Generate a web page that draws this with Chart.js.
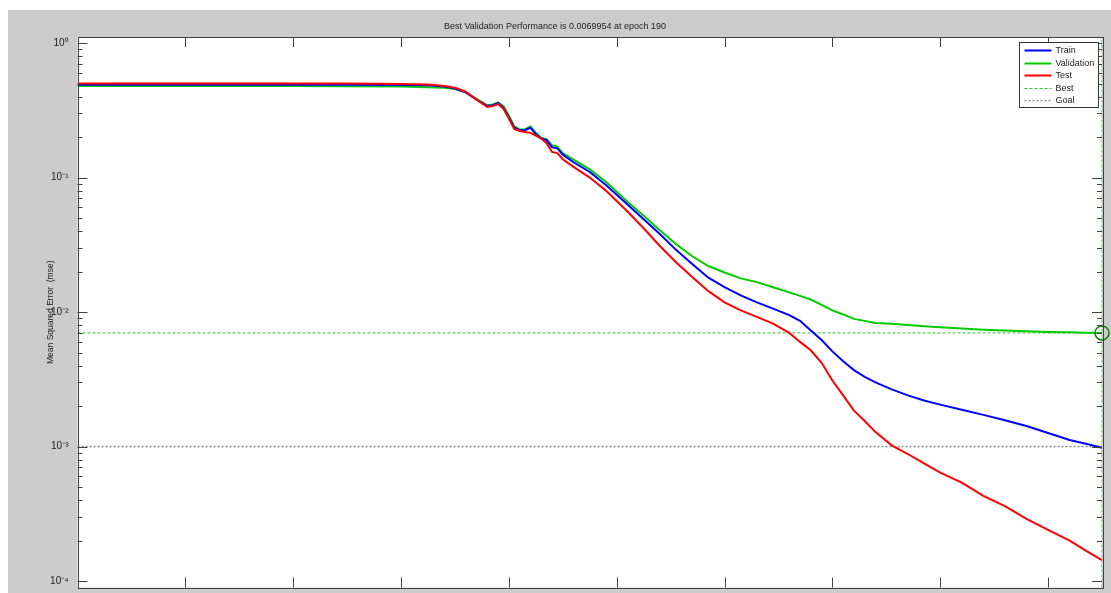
<!DOCTYPE html>
<html>
<head>
<meta charset="utf-8">
<title>Best Validation Performance</title>
<script src="https://cdn.jsdelivr.net/npm/chart.js@4.4.1/dist/chart.umd.min.js"></script>
<style>
  html, body { margin: 0; padding: 0; background: #ffffff; overflow: hidden; }
  #wrap { position: absolute; left: 8px; top: 10px; width: 1103px; height: 583px; background: #cccccc; overflow: hidden; }
</style>
</head>
<body>
<div id="wrap"><canvas id="perfChart" width="1103" height="586"></canvas></div>
<script>
var epochs = [0, 20, 40, 50, 60, 65, 68, 70, 72, 74, 76, 77, 78, 79, 80, 81, 82, 83, 84, 85,
  86, 87, 88, 89, 90, 92, 95, 98, 102, 105, 108, 111, 114, 117, 120, 123, 126, 129, 132, 134,
  136, 138, 140, 142, 144, 146, 148, 151, 154, 157, 160, 164, 168, 172, 176, 180, 184, 187, 190];

var trainPerf = [0.49, 0.49, 0.49, 0.49, 0.488, 0.485, 0.475, 0.46, 0.43, 0.38,
  0.34, 0.345, 0.357, 0.33, 0.28, 0.235, 0.225, 0.225, 0.235, 0.21,
  0.195, 0.19, 0.168, 0.165, 0.148, 0.13, 0.11, 0.088, 0.063, 0.049,
  0.038, 0.029, 0.0228, 0.018, 0.0153, 0.0133, 0.0118, 0.0106, 0.0095, 0.0086,
  0.0073, 0.0062, 0.0051, 0.0043, 0.0037, 0.0033, 0.003, 0.00266, 0.0024, 0.0022,
  0.00205, 0.00188, 0.00172, 0.00157, 0.00142, 0.00126, 0.00112, 0.00105, 0.00098];

var valPerf = [0.48, 0.48, 0.48, 0.478, 0.475, 0.47, 0.465, 0.455, 0.43, 0.385,
  0.345, 0.35, 0.362, 0.34, 0.29, 0.24, 0.228, 0.228, 0.24, 0.215,
  0.198, 0.192, 0.174, 0.17, 0.152, 0.136, 0.115, 0.093, 0.066, 0.052,
  0.0405, 0.032, 0.026, 0.022, 0.0197, 0.0178, 0.0167, 0.0153, 0.014, 0.0132,
  0.0124, 0.0113, 0.0103, 0.0096, 0.0089, 0.0086, 0.0083, 0.0082, 0.008, 0.00785,
  0.0077, 0.00755, 0.0074, 0.00728, 0.0072, 0.00712, 0.00708, 0.00703, 0.0069954];

var testPerf = [0.5, 0.5, 0.5, 0.5, 0.497, 0.492, 0.48, 0.465, 0.435, 0.38,
  0.335, 0.34, 0.352, 0.325, 0.275, 0.23, 0.222, 0.218, 0.215, 0.205,
  0.195, 0.18, 0.155, 0.152, 0.137, 0.12, 0.1, 0.08, 0.056, 0.042,
  0.031, 0.0235, 0.0182, 0.0143, 0.0118, 0.0103, 0.0092, 0.0082, 0.007, 0.006,
  0.0052, 0.0042, 0.0031, 0.0024, 0.00185, 0.00155, 0.00128, 0.00102, 0.00088, 0.00075,
  0.00064, 0.00054, 0.00043, 0.00036, 0.00029, 0.00024, 0.0002, 0.000168, 0.000143];

var bestEpoch = 190;
var bestPerf = 0.0069954;
var goalPerf = 0.001;
var yDecades = [0, -1, -2, -3, -4];
var legendLabels = ["Train", "Validation", "Test", "Best", "Goal"];

var yMin = 8.95e-5, yMax = 1.11;
var fontFam = "'Liberation Sans', Arial, sans-serif";

function pts(vals) {
  return epochs.map(function (e, i) { return { x: e, y: vals[i] }; });
}

function sup(n) {
  var map = { "-": "\u207B", "0": "\u2070", "1": "\u00B9", "2": "\u00B2", "3": "\u00B3", "4": "\u2074" };
  return String(n).split("").map(function (c) { return map[c]; }).join("");
}

// white axes box + inward ticks like matlab
var matlabFrame = {
  id: "matlabFrame",
  beforeDraw: function (chart) {
    var a = chart.chartArea, ctx = chart.ctx;
    ctx.save();
    ctx.fillStyle = "#ffffff";
    ctx.fillRect(a.left, a.top, a.right - a.left, a.bottom - a.top);
    ctx.restore();
  },
  afterDraw: function (chart) {
    var a = chart.chartArea, ctx = chart.ctx;
    var xs = chart.scales.x, ys = chart.scales.y;
    ctx.save();
    ctx.strokeStyle = "#404040";
    ctx.lineWidth = 1;
    ctx.beginPath();
    xs.ticks.forEach(function (t) {
      if (t.value % 20 !== 0) return;
      var px = Math.round(xs.getPixelForValue(t.value)) + 0.5;
      ctx.moveTo(px, a.bottom); ctx.lineTo(px, a.bottom - 10);
      ctx.moveTo(px, a.top); ctx.lineTo(px, a.top + 10);
    });
    ys.ticks.forEach(function (t) {
      var e = Math.floor(Math.log10(t.value) + 1e-9);
      var m = t.value / Math.pow(10, e);
      if (Math.abs(m - Math.round(m)) > 1e-6) return;
      var len = Math.round(m) === 1 ? 10 : 5;
      var py = Math.round(ys.getPixelForValue(t.value)) + 0.5;
      ctx.moveTo(a.left, py); ctx.lineTo(a.left + len, py);
      ctx.moveTo(a.right, py); ctx.lineTo(a.right - len, py);
    });
    ctx.stroke();
    ctx.strokeRect(Math.round(a.left) + 0.5, Math.round(a.top) + 0.5,
      Math.round(a.right - a.left), Math.round(a.bottom - a.top));
    ctx.restore();
  }
};

// legend box in the upper right corner of the axes
var matlabLegend = {
  id: "matlabLegend",
  afterDraw: function (chart) {
    var a = chart.chartArea, ctx = chart.ctx;
    var w = 79, h = 65;
    var x0 = Math.round(a.right - 4 - w) + 0.5, y0 = Math.round(a.top + 5) + 0.5;
    ctx.save();
    ctx.fillStyle = "#ffffff";
    ctx.fillRect(x0, y0, w, h);
    ctx.strokeStyle = "#333333";
    ctx.lineWidth = 1;
    ctx.strokeRect(x0, y0, w, h);
    ctx.font = "9px " + fontFam;
    ctx.textBaseline = "middle";
    legendLabels.forEach(function (lab, i) {
      var ds = chart.data.datasets.filter(function (d) { return d.label === lab; })[0];
      var y = Math.round(y0 + 7.5 + i * 12.6) + 0.5;
      ctx.strokeStyle = ds.borderColor;
      ctx.lineWidth = ds.borderWidth;
      ctx.setLineDash(ds.borderDash || []);
      ctx.beginPath();
      ctx.moveTo(x0 + 5, y);
      ctx.lineTo(x0 + 32, y);
      ctx.stroke();
      ctx.setLineDash([]);
      ctx.fillStyle = "#222222";
      ctx.fillText(lab, x0 + 36, y);
    });
    ctx.restore();
  }
};

var ctx = document.getElementById("perfChart").getContext("2d");
var chart = new Chart(ctx, {
  type: "line",
  data: {
    datasets: [
      { label: "Test", data: pts(testPerf), borderColor: "#ff0000", borderWidth: 2, order: 1 },
      { label: "Train", data: pts(trainPerf), borderColor: "#0000ff", borderWidth: 2, order: 2 },
      { label: "Validation", data: pts(valPerf), borderColor: "#00cc00", borderWidth: 2, order: 3 },
      {
        label: "Goal",
        data: [{ x: 0, y: goalPerf }, { x: bestEpoch, y: goalPerf }],
        borderColor: "#8c8c8c", borderWidth: 1.5, borderDash: [2, 2], order: 4
      },
      {
        label: "Best",
        data: [{ x: 0, y: bestPerf }, { x: bestEpoch, y: bestPerf }],
        borderColor: "#33bb33", borderWidth: 1, borderDash: [3, 2], order: 5
      },
      {
        label: "Best epoch",
        data: [{ x: bestEpoch, y: yMin }, { x: bestEpoch, y: yMax }],
        borderColor: "#33bb33", borderWidth: 1, borderDash: [3, 2], order: 6
      },
      {
        label: "Best point",
        data: [{ x: bestEpoch, y: bestPerf }],
        showLine: false, pointRadius: 7, pointBorderWidth: 1.5,
        pointBorderColor: "#0a8a0a", pointBackgroundColor: "rgba(0,0,0,0)",
        clip: false, order: 0
      }
    ]
  },
  plugins: [matlabFrame, matlabLegend],
  options: {
    responsive: false,
    animation: false,
    devicePixelRatio: 1,
    layout: { padding: { left: 0, right: 9, top: 0, bottom: 1.5 } },
    elements: { point: { radius: 0 }, line: { tension: 0 } },
    plugins: {
      legend: { display: false },
      tooltip: { enabled: false },
      title: {
        display: true,
        text: "Best Validation Performance is " + bestPerf + " at epoch " + bestEpoch,
        color: "#222222",
        font: { family: fontFam, size: 9, weight: "normal" },
        padding: { top: 11, bottom: 5.2 }
      }
    },
    scales: {
      x: {
        type: "linear",
        min: 0,
        max: bestEpoch,
        grid: { display: false, drawTicks: false },
        border: { display: false },
        afterFit: function (scale) { scale.height = 0; },
        ticks: { display: false, stepSize: 20 }
      },
      y: {
        type: "logarithmic",
        min: yMin,
        max: yMax,
        grid: { display: false, drawTicks: false },
        border: { display: false },
        afterFit: function (scale) {
          scale.width = 69.5;
          scale.paddingTop = 0;
          scale.paddingBottom = 0;
        },
        title: {
          display: true,
          text: "Mean Squared Error  (mse)",
          color: "#222222",
          font: { family: fontFam, size: 8.5 },
          padding: { top: 38, bottom: 0 }
        },
        ticks: {
          autoSkip: false,
          padding: 9,
          color: "#222222",
          font: { family: fontFam, size: 10 },
          callback: function (v) {
            var e = Math.log10(v);
            var r = Math.round(e);
            if (Math.abs(e - r) < 1e-6 && yDecades.indexOf(r) >= 0) return "10" + sup(r);
            return "";
          }
        }
      }
    }
  }
});
</script>
</body>
</html>
